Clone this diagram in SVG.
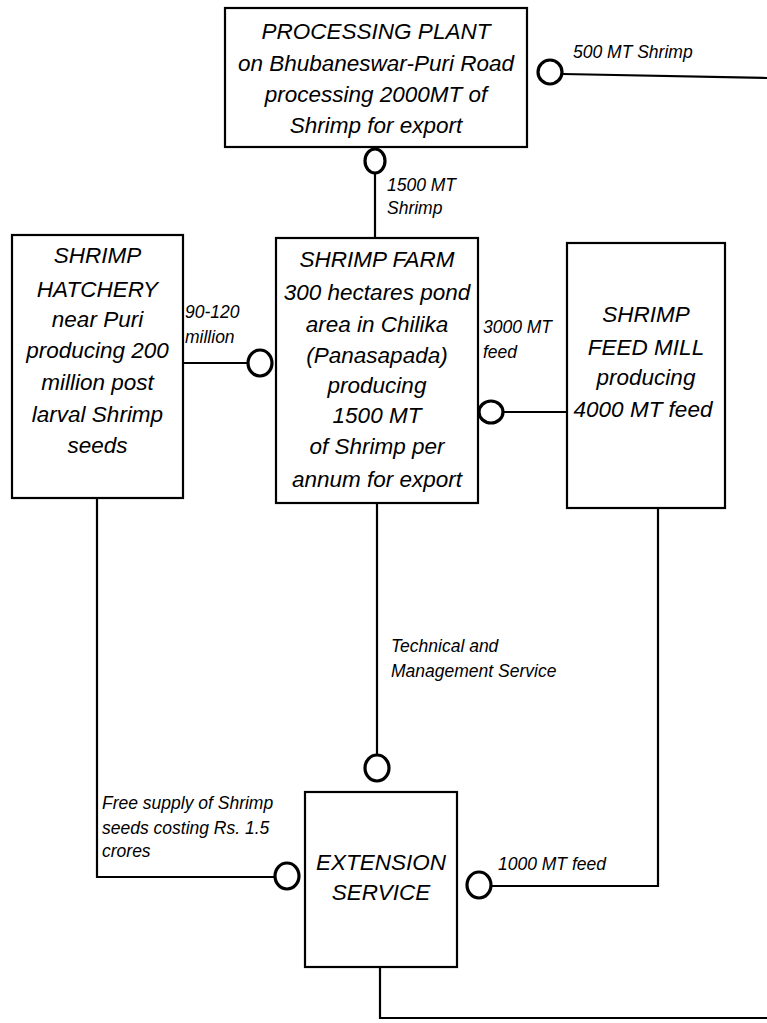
<svg xmlns="http://www.w3.org/2000/svg" width="767" height="1023" viewBox="0 0 767 1023">
<style>
.box{fill:#fff;stroke:#000;stroke-width:2.2}
.t{font-family:"Liberation Sans",Arial,sans-serif;font-style:italic;font-size:22.5px;fill:#000;text-anchor:middle}
.lbl{font-family:"Liberation Sans",Arial,sans-serif;font-style:italic;font-size:17.5px;fill:#000}
.ln{fill:none;stroke:#000;stroke-width:2.2}
.jn{fill:#fff;stroke:#000;stroke-width:3.2}
</style>
<rect width="767" height="1023" fill="#fff"/>
<g id="connectors">
  <path class="ln" d="M563,74 L767,78"/>
  <path class="ln" d="M375,173 L375,238"/>
  <path class="ln" d="M183,363 L247,363"/>
  <path class="ln" d="M503,412 L567,412"/>
  <path class="ln" d="M377,503 L377,755"/>
  <path class="ln" d="M97,498 L97,877 L274,877"/>
  <path class="ln" d="M658,508 L658,886 L492,886"/>
  <path class="ln" d="M380,967 L380,1018 L767,1018"/>
  <ellipse class="jn" cx="550" cy="72" rx="12" ry="12"/>
  <ellipse class="jn" cx="375" cy="161" rx="10" ry="12"/>
  <ellipse class="jn" cx="260" cy="363" rx="12" ry="13"/>
  <ellipse class="jn" cx="491" cy="412" rx="12" ry="11"/>
  <ellipse class="jn" cx="377" cy="768" rx="12" ry="13"/>
  <ellipse class="jn" cx="287" cy="876" rx="12" ry="13"/>
  <ellipse class="jn" cx="479" cy="885" rx="12" ry="13"/>
  <text class="lbl" x="573" y="58">500 MT Shrimp</text>
  <text class="lbl" x="387" y="191">1500 MT</text>
  <text class="lbl" x="387" y="214">Shrimp</text>
  <text class="lbl" x="185" y="318">90-120</text>
  <text class="lbl" x="185" y="343">million</text>
  <text class="lbl" x="483" y="333">3000 MT</text>
  <text class="lbl" x="483" y="358">feed</text>
  <text class="lbl" x="391" y="652">Technical and</text>
  <text class="lbl" x="391" y="677">Management Service</text>
  <text class="lbl" x="102" y="809">Free supply of Shrimp</text>
  <text class="lbl" x="102" y="834">seeds costing Rs. 1.5</text>
  <text class="lbl" x="102" y="857">crores</text>
  <text class="lbl" x="498" y="870">1000 MT feed</text>
</g>
<g id="processing-plant">
  <rect class="box" x="225" y="8" width="302" height="139"/>
  <text class="t" x="376" y="39">PROCESSING PLANT</text>
  <text class="t" x="376" y="71">on Bhubaneswar-Puri Road</text>
  <text class="t" x="376" y="102">processing 2000MT of</text>
  <text class="t" x="376" y="133">Shrimp for export</text>
</g>
<g id="shrimp-hatchery">
  <rect class="box" x="12" y="235" width="171" height="263"/>
  <text class="t" x="97.5" y="263">SHRIMP</text>
  <text class="t" x="97.5" y="297">HATCHERY</text>
  <text class="t" x="97.5" y="327">near Puri</text>
  <text class="t" x="97.5" y="358">producing 200</text>
  <text class="t" x="97.5" y="390">million post</text>
  <text class="t" x="97.5" y="422">larval Shrimp</text>
  <text class="t" x="97.5" y="453">seeds</text>
</g>
<g id="shrimp-farm">
  <rect class="box" x="276" y="238" width="202" height="265"/>
  <text class="t" x="377" y="267">SHRIMP FARM</text>
  <text class="t" x="377" y="300">300 hectares pond</text>
  <text class="t" x="377" y="332">area in Chilika</text>
  <text class="t" x="377" y="363">(Panasapada)</text>
  <text class="t" x="377" y="393">producing</text>
  <text class="t" x="377" y="423">1500 MT</text>
  <text class="t" x="377" y="454">of Shrimp per</text>
  <text class="t" x="377" y="487">annum for export</text>
</g>
<g id="shrimp-feed-mill">
  <rect class="box" x="567" y="243" width="158" height="265"/>
  <text class="t" x="646" y="322">SHRIMP</text>
  <text class="t" x="646" y="355">FEED MILL</text>
  <text class="t" x="646" y="385">producing</text>
  <text class="t" x="643" y="417">4000 MT feed</text>
</g>
<g id="extension-service">
  <rect class="box" x="305" y="792" width="152" height="175"/>
  <text class="t" x="381" y="870">EXTENSION</text>
  <text class="t" x="381" y="900">SERVICE</text>
</g>
</svg>
